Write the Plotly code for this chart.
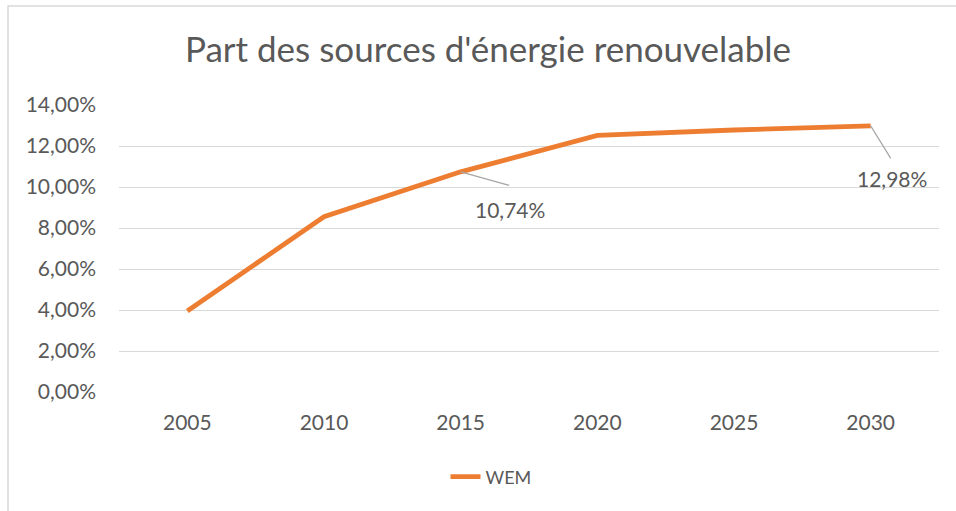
import plotly.graph_objects as go

years = ["2005", "2010", "2015", "2020", "2025", "2030"]
wem = [0.0395, 0.0855, 0.1074, 0.1252, 0.1278, 0.1298]
y_ticks = [0, 0.02, 0.04, 0.06, 0.08, 0.10, 0.12, 0.14]
labelled = {"2015": "10,74%", "2030": "12,98%"}

W, H = 956, 511
ML, MR, MT, MB = 119, 17, 105, 119
PW, PH = W - ML - MR, H - MT - MB

FONT = "Lato"
GREY = "#595959"

fig = go.Figure()
fig.add_trace(go.Scatter(
    x=years, y=wem, mode="lines", name="WEM",
    line=dict(color="#ED7D31", width=4.8),
    hoverinfo="skip",
))

# data labels with leader lines
offsets = {"2015": (50, 14, 49, -38), "2030": (21, 34, 21, -53)}
for yr, txt in labelled.items():
    i = years.index(yr)
    v = wem[i]
    ax, ay, xs, ys = offsets[yr]
    fig.add_annotation(x=i, y=v, text="", showarrow=True, arrowhead=0,
                       arrowwidth=1.2, arrowcolor="#A6A6A6", ax=ax, ay=ay,
                       standoff=0, startstandoff=0)
    fig.add_annotation(x=i, y=v, text=txt, showarrow=False,
                       xshift=xs, yshift=ys,
                       font=dict(family=FONT, size=21, color=GREY))

# chart border (top & left visible)
xl = -(ML - 8) / PW
yt = 1 + (MT - 6) / PH
fig.add_shape(type="path", xref="paper", yref="paper",
              path=f"M {xl} -2 L {xl} {yt} L 2 {yt}",
              line=dict(color="#D9D9D9", width=1.5), layer="below")

fig.update_layout(
    width=W, height=H,
    margin=dict(l=ML, r=MR, t=MT, b=MB),
    paper_bgcolor="white", plot_bgcolor="white",
    separators=", ",
    font=dict(family=FONT, color=GREY),
    title=dict(text="Part des sources d'énergie renouvelable",
               x=488 / W, xref="container", xanchor="center",
               y=1 - 50 / H, yref="container", yanchor="middle",
               font=dict(family=FONT, size=35, color=GREY)),
    showlegend=True,
    legend=dict(orientation="h", x=0.5 - 38 / PW, xanchor="center",
                y=1 - (477 - MT) / PH, yanchor="middle",
                font=dict(family=FONT, size=18, color=GREY)),
    xaxis=dict(type="category", range=[-0.5, len(years) - 0.5],
               showgrid=False, showline=False, ticks="",
               zeroline=False, tickfont=dict(family=FONT, size=21, color=GREY),
               ticklabelstandoff=16),
    yaxis=dict(range=[0, 0.14], tickvals=y_ticks, tickformat=".2%",
               showgrid=True, gridcolor="#D9D9D9", gridwidth=1.2,
               zeroline=False, showline=False, ticks="",
               tickfont=dict(family=FONT, size=21, color=GREY),
               ticklabelstandoff=22),
)

fig.write_html("out.html", config={"displayModeBar": False},
               post_script="document.body.style.margin='0';document.body.style.overflow='hidden';")
